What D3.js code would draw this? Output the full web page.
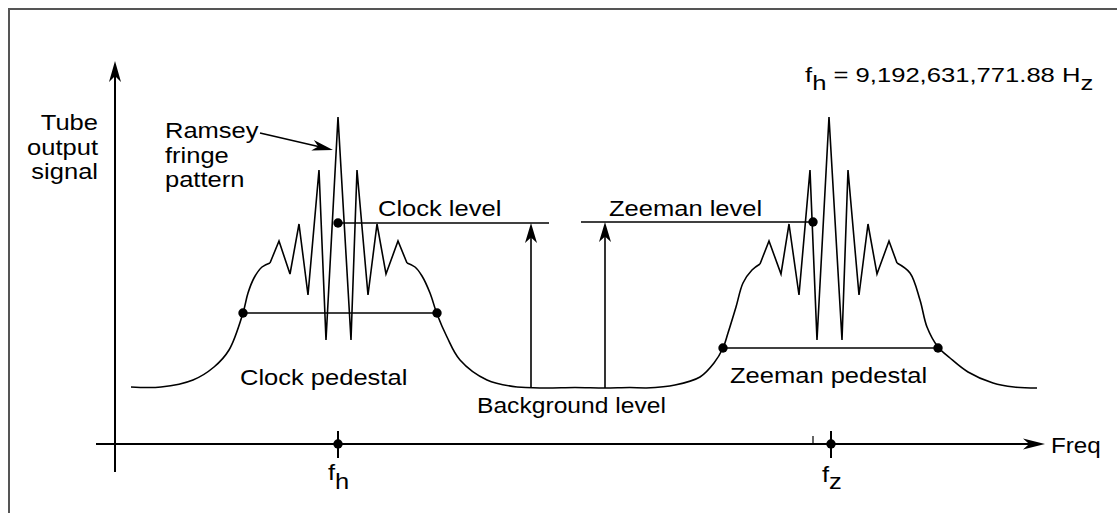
<!DOCTYPE html>
<html>
<head>
<meta charset="utf-8">
<script src="https://cdn.jsdelivr.net/npm/d3@7"></script>
<style>
  body { margin: 0; background: #fff; }
  svg { display: block; font-family: "Liberation Sans", Arial, Helvetica, sans-serif; }
</style>
</head>
<body>
<div id="chart"></div>
<script>
// values are in arbitrary units: [frequency, tube output signal]
const clockLeft = [[1.6,5.7],[4.6,5.7],[7.8,6.4],[9.9,7.7],[11.4,9.4],[12.8,13.1],[13.3,15.1],[13.9,16.6],[14.7,17.7],[15.5,18.1]];
const clockFringe = [[15.5,18.1],[16.4,20.3],[17.5,17.0],[18.4,22.0],[19.3,14.9],[20.4,27.4],[21.1,10.4],[22.3,32.7],
                     [23.6,10.4],[24.2,27.4],[25.3,14.9],[26.2,22.0],[27.1,17.0],[28.3,20.3],[29.2,18.1]];
const clockRight = [[29.2,18.1],[30.0,17.7],[30.7,16.8],[31.5,15.1],[32.2,13.0],[33.2,10.7],[34.5,8.4],[37.2,6.4],[40.2,5.7]];
const background = [[40.2,5.7],[43.0,5.6],[46.0,5.65],[49.0,5.6],[51.5,5.65],[53.1,5.6]];
const zeemanLeft = [[53.1,5.6],[56.0,5.9],[58.5,6.7],[59.9,8.1],[60.8,9.6],[61.3,11.1],[62.1,13.7],[62.8,16.1],[63.7,17.4],[64.5,18.0]];
const zeemanFringe = [[64.5,18.0],[65.4,20.3],[66.6,17.0],[67.4,22.0],[68.4,14.9],[69.5,27.4],[70.2,10.4],[71.4,32.7],
                      [72.7,10.4],[73.3,27.4],[74.4,14.9],[75.3,22.0],[76.2,17.0],[77.4,20.3],[78.2,18.1]];
const zeemanRight = [[78.2,18.1],[79.5,17.1],[80.5,14.4],[81.2,11.7],[82.3,9.7],[83.5,8.6],[85.3,7.2],[87.8,6.1],[89.9,5.7],[92.2,5.6]];

// key frequencies and levels
const fh = 22.3, fz = 71.6, fzMark = 69.8;
const clockLevel = 22.1, zeemanLevel = 22.2, backgroundLevel = 5.6;
const clockPedestal = [12.8, 32.2, 13.1];   // from, to, level
const zeemanPedestal = [60.8, 82.3, 9.6];
const clockLevelLine = [22.3, 43.4], clockArrowX = 41.6;
const zeemanLevelLine = [46.6, 69.8], zeemanArrowX = 49.0;
const ramseyTip = [21.8, 29.4];
const axisRange = { xMin: -1.9, xMax: 93, yMin: -2.8, yMax: 38.3 };

const width = 1117, height = 513;
const sx = 1.16; // the lettering of the original is a bit wide

let svg = d3.select('#chart').append('svg')
    .attr('width', width)
    .attr('height', height);

const xScale = d3.scaleLinear().domain([0, 93]).range([115, 1045]);
const yScale = d3.scaleLinear().domain([0, 38.3]).range([444, 61]);

// frame
svg.append('rect')
    .attr('x', 9).attr('y', 9)
    .attr('width', 1130).attr('height', 530)
    .style('fill', 'none')
    .style('stroke', '#555')
    .style('stroke-width', 2);

function arrowHead(x, y, angle, len, half) {
    len = len || 21; half = half || 6;
    svg.append('path')
        .attr('d', `M0,0 L${-len},${-half} L${-len * 0.72},0 L${-len},${half} Z`)
        .attr('transform', `translate(${x},${y}) rotate(${angle})`)
        .style('fill', '#000');
}

function seg(x1, y1, x2, y2, w) {
    svg.append('line')
        .attr('x1', x1).attr('y1', y1).attr('x2', x2).attr('y2', y2)
        .style('stroke', '#000')
        .style('stroke-width', w || 1.6);
}

function dot(x, y) {
    svg.append('circle')
        .attr('cx', x).attr('cy', y).attr('r', 4.7)
        .style('fill', '#000');
}

function label(x, y, str, anchor, size, stretch) {
    return svg.append('text')
        .attr('transform', `translate(${x},${y}) scale(${stretch || sx},1)`)
        .attr('text-anchor', anchor || 'start')
        .style('font-size', (size || 22) + 'px')
        .style('fill', '#000')
        .text(str);
}

// axes
seg(xScale(0), yScale(axisRange.yMin), xScale(0), yScale(axisRange.yMax) + 10, 2);
arrowHead(xScale(0), yScale(axisRange.yMax), -90);
seg(xScale(axisRange.xMin), yScale(0), xScale(axisRange.xMax) - 10, yScale(0), 2);
arrowHead(xScale(axisRange.xMax), yScale(0), 0, 22, 5.5);

// frequency marks
seg(xScale(fh), yScale(0) - 13, xScale(fh), yScale(0) + 14, 2);
dot(xScale(fh), yScale(0));
seg(xScale(fz), yScale(0) - 13, xScale(fz), yScale(0) + 14, 2);
dot(xScale(fz), yScale(0));
seg(xScale(fzMark), yScale(0) - 8, xScale(fzMark), yScale(0), 1.2);

// resonance curves
const smooth = d3.line().x(d => xScale(d[0])).y(d => yScale(d[1])).curve(d3.curveCatmullRom);
const sharp = d3.line().x(d => xScale(d[0])).y(d => yScale(d[1]));
[[clockLeft, smooth], [clockFringe, sharp], [clockRight, smooth], [background, smooth],
 [zeemanLeft, smooth], [zeemanFringe, sharp], [zeemanRight, smooth]].forEach(function(p) {
    svg.append('path')
        .attr('d', p[1](p[0]))
        .style('fill', 'none')
        .style('stroke', '#000')
        .style('stroke-width', 1.6)
        .style('stroke-linejoin', 'miter');
});

// pedestals
seg(xScale(clockPedestal[0]), yScale(clockPedestal[2]), xScale(clockPedestal[1]), yScale(clockPedestal[2]));
dot(xScale(clockPedestal[0]), yScale(clockPedestal[2]));
dot(xScale(clockPedestal[1]), yScale(clockPedestal[2]));
seg(xScale(zeemanPedestal[0]), yScale(zeemanPedestal[2]), xScale(zeemanPedestal[1]), yScale(zeemanPedestal[2]));
dot(xScale(zeemanPedestal[0]), yScale(zeemanPedestal[2]));
dot(xScale(zeemanPedestal[1]), yScale(zeemanPedestal[2]));

// clock and zeeman levels
seg(xScale(clockLevelLine[0]), yScale(clockLevel), xScale(clockLevelLine[1]), yScale(clockLevel));
dot(xScale(fh), yScale(clockLevel));
seg(xScale(clockArrowX), yScale(backgroundLevel), xScale(clockArrowX), yScale(clockLevel) + 12);
arrowHead(xScale(clockArrowX), yScale(clockLevel), -90, 20, 6);

seg(xScale(zeemanLevelLine[0]), yScale(zeemanLevel), xScale(zeemanLevelLine[1]), yScale(zeemanLevel));
dot(xScale(zeemanLevelLine[1]), yScale(zeemanLevel));
seg(xScale(zeemanArrowX), yScale(backgroundLevel), xScale(zeemanArrowX), yScale(zeemanLevel) + 12);
arrowHead(xScale(zeemanArrowX), yScale(zeemanLevel), -90, 20, 6);

// Ramsey pointer, from the end of the word to the central fringe
const rStart = [260, 133];
const rTip = [xScale(ramseyTip[0]), yScale(ramseyTip[1])];
const rAng = Math.atan2(rTip[1] - rStart[1], rTip[0] - rStart[0]);
seg(rStart[0], rStart[1], rTip[0] - 14 * Math.cos(rAng), rTip[1] - 14 * Math.sin(rAng));
arrowHead(rTip[0], rTip[1], rAng * 180 / Math.PI, 21, 5.5);

// labels
label(98, 130, 'Tube', 'end');
label(98, 155, 'output', 'end');
label(98, 179, 'signal', 'end');
label(165, 138, 'Ramsey');
label(165, 163, 'fringe');
label(165, 187, 'pattern');
label(378, 216, 'Clock level');
label(609, 216, 'Zeeman level');
label(240, 385, 'Clock pedestal');
label(730, 383, 'Zeeman pedestal');
label(477, 413, 'Background level', 'start', 22, 1.12);
label(1051, 453, 'Freq', 'start', 22, 1.1);

let fhLabel = label(xScale(fh) - 10, 480, 'f');
fhLabel.append('tspan').attr('dy', 9).text('h');
let fzLabel = label(xScale(fz) - 9, 482, 'f');
fzLabel.append('tspan').attr('dy', 7).text('z');

let title = label(805, 82, 'f', 'start', 21, 1.22);
title.append('tspan').attr('dy', 8).text('h');
title.append('tspan').attr('dy', -8).text(' = 9,192,631,771.88 H');
title.append('tspan').attr('dy', 8).text('z');
</script>
</body>
</html>
